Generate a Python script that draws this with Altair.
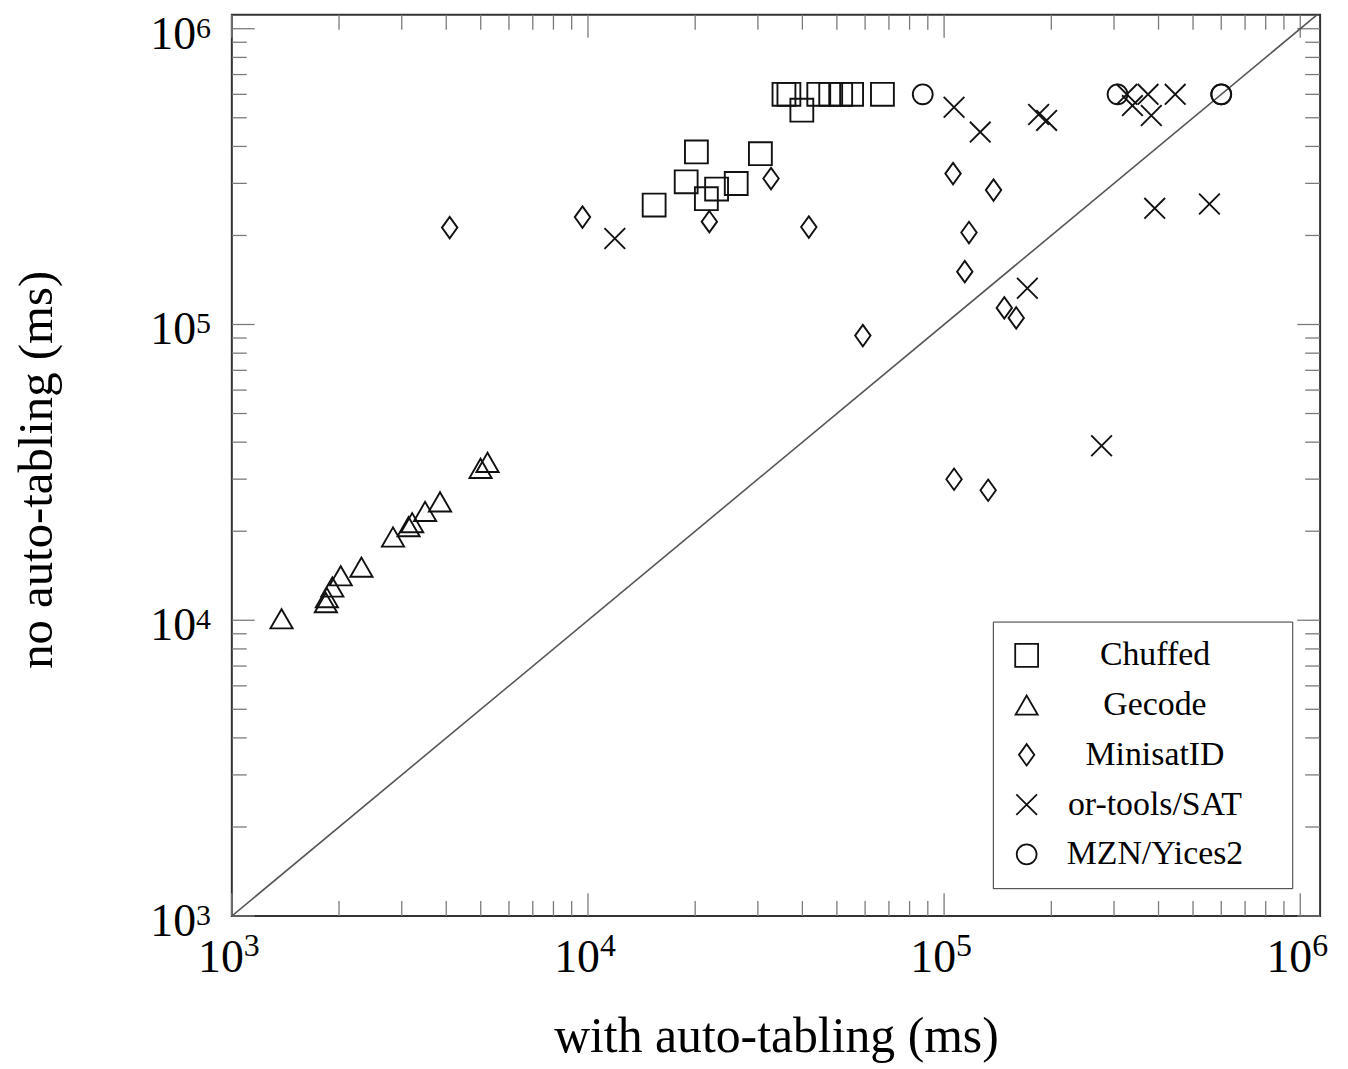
import altair as alt
import pandas as pd

# ---------------- data ----------------
solvers = ["Chuffed", "Gecode", "MinisatID", "or-tools/SAT", "MZN/Yices2"]

chuffed_x = [15340, 18870, 20160, 21500, 22970, 26080, 30490, 35510, 36660, 39860,
             44470, 48040, 51240, 54990, 67120]
chuffed_y = [253500, 303700, 383100, 266200, 287000, 299700, 378100, 600000, 600000, 530200,
             600000, 600000, 600000, 600000, 600000]

gecode_x = [1379, 1837, 1849, 1915, 2022, 2312, 2835, 3136, 3209, 3489, 3842, 4993, 5223]
gecode_y = [10116, 11470, 11920, 12950, 14140, 15120, 19120, 20720, 21370, 23330, 25140, 32630, 34190]

minisat_x = [4090, 9652, 21920, 32660, 41700, 59130, 105950, 114300, 117450, 137660,
             147570, 159400, 106640, 132960]
minisat_y = [212600, 230700, 222700, 311500, 213500, 91700, 323700, 150900, 204600, 284700,
             113800, 105250, 29970, 27520]

ortools_x = [11895, 106640, 126310, 184270, 194000, 325900, 337900, 373800, 381800, 445600,
             390300, 555900, 171300, 276800]
ortools_y = [195300, 542700, 447200, 512900, 489700, 600000, 549900, 600000, 509000, 600000,
             247000, 255500, 132600, 38900]

yices_x = [87100, 306900, 600000, 600000]
yices_y = [600000, 600000, 600000, 600000]

diag_vals = [1000, 1137000]
major_ticks = [1000, 10000, 100000, 1000000]
minor_ticks = [2000, 3000, 4000, 5000, 6000, 7000, 8000, 9000,
               20000, 30000, 40000, 50000, 60000, 70000, 80000, 90000,
               200000, 300000, 400000, 500000, 600000, 700000, 800000, 900000]
tick_base = ["10", "10", "10", "10"]
tick_exp = ["3", "4", "5", "6"]

# ---------------- tables ----------------
rows = []
for name, xs, ys in [("Chuffed", chuffed_x, chuffed_y), ("Gecode", gecode_x, gecode_y),
                     ("MinisatID", minisat_x, minisat_y), ("or-tools/SAT", ortools_x, ortools_y),
                     ("MZN/Yices2", yices_x, yices_y)]:
    for a, b in zip(xs, ys):
        rows.append({"solver": name, "x": a, "y": b})
df = pd.DataFrame(rows)
diag = pd.DataFrame({"d": diag_vals})
major = pd.DataFrame({"v": major_ticks})
minor = pd.DataFrame({"v": minor_ticks})
labels = pd.DataFrame({"v": major_ticks, "base": tick_base, "exp": tick_exp})

# ---------------- layout / style ----------------
W, H = 1094, 906
XDOM = [1000, 1137000]
YDOM = [1000, 1115000]
FONT = "Liberation Serif"
INK = "#111111"

xaxis = alt.Axis(title="with auto-tabling (ms)", labels=False, ticks=False, domain=False, grid=False,
                 titleFont=FONT, titleFontSize=50, titleFontWeight="normal", titleColor="black",
                 titleX=547, titleY=136, titleBaseline="alphabetic", titleAlign="center", titleAngle=0)
yaxis = alt.Axis(title="no auto-tabling (ms)", labels=False, ticks=False, domain=False, grid=False,
                 titleFont=FONT, titleFontSize=49, titleFontWeight="normal", titleColor="black",
                 titleX=-181, titleY=457, titleBaseline="alphabetic", titleAlign="center", titleAngle=270)


def X(f):
    return alt.X(f"{f}:Q", scale=alt.Scale(type="log", domain=XDOM, nice=False), axis=xaxis)


def Y(f):
    return alt.Y(f"{f}:Q", scale=alt.Scale(type="log", domain=YDOM, nice=False), axis=yaxis)


tick_style = dict(color="#7a7a7a", strokeWidth=1.3)


def tick_layers(data, L):
    return [
        alt.Chart(data).mark_rule(**tick_style).encode(x=X("v"), y=alt.value(H), y2=alt.value(H - L)),
        alt.Chart(data).mark_rule(**tick_style).encode(x=X("v"), y=alt.value(0), y2=alt.value(L)),
        alt.Chart(data).mark_rule(**tick_style).encode(y=Y("v"), x=alt.value(0), x2=alt.value(L)),
        alt.Chart(data).mark_rule(**tick_style).encode(y=Y("v"), x=alt.value(W), x2=alt.value(W - L)),
    ]


shapes = ["square", "triangle-up", "M0,-1L0.72,0L0,1L-0.72,0Z", "M-1,-1L1,1M-1,1L1,-1", "circle"]
sizes = [529, 400, 680, 270, 576]

legend = alt.Legend(title=" ", titleOrient="right", titlePadding=32, titleFontSize=10,
                    orient="none", legendX=765, legendY=610, direction="vertical",
                    strokeColor="#333333", fillColor="white", padding=17,
                    labelFont=FONT, labelFontSize=34, labelColor="black", labelAlign="center",
                    labelOffset=112, labelLimit=400, rowPadding=16,
                    symbolStrokeWidth=1.8, symbolStrokeColor=INK)

diag_line = alt.Chart(diag).mark_line(clip=True, color="#555555", strokeWidth=1.6).encode(
    x=X("d"), y=Y("d"))

points = alt.Chart(df).mark_point(filled=False, strokeWidth=1.9, color=INK, opacity=1).encode(
    x=X("x"), y=Y("y"),
    shape=alt.Shape("solver:N", scale=alt.Scale(domain=solvers, range=shapes), legend=legend),
    size=alt.Size("solver:N", scale=alt.Scale(domain=solvers, range=sizes), legend=legend),
)

xb = alt.Chart(labels).mark_text(font=FONT, fontSize=46, align="right", baseline="alphabetic",
                                 dx=12, color="black").encode(x=X("v"), y=alt.value(H + 56), text="base:N")
xe = alt.Chart(labels).mark_text(font=FONT, fontSize=32, align="left", baseline="alphabetic",
                                 dx=12, color="black").encode(x=X("v"), y=alt.value(H + 40), text="exp:N")
yb = alt.Chart(labels).mark_text(font=FONT, fontSize=46, align="right", baseline="alphabetic",
                                 dy=20, color="black").encode(y=Y("v"), x=alt.value(-36), text="base:N")
ye = alt.Chart(labels).mark_text(font=FONT, fontSize=30, align="left", baseline="alphabetic",
                                 dy=9, color="black").encode(y=Y("v"), x=alt.value(-36), text="exp:N")

chart = alt.layer(
    *tick_layers(minor, 15), *tick_layers(major, 23), diag_line, points, xb, xe, yb, ye
).properties(
    width=W, height=H,
    background="white",
    autosize=alt.AutoSizeParams(type="none"),
    padding={"left": 225, "top": 4, "right": 20, "bottom": 151},
).configure_view(stroke="#333333", strokeWidth=2)

chart.save("out.html", embed_options={"renderer": "svg", "actions": False})
